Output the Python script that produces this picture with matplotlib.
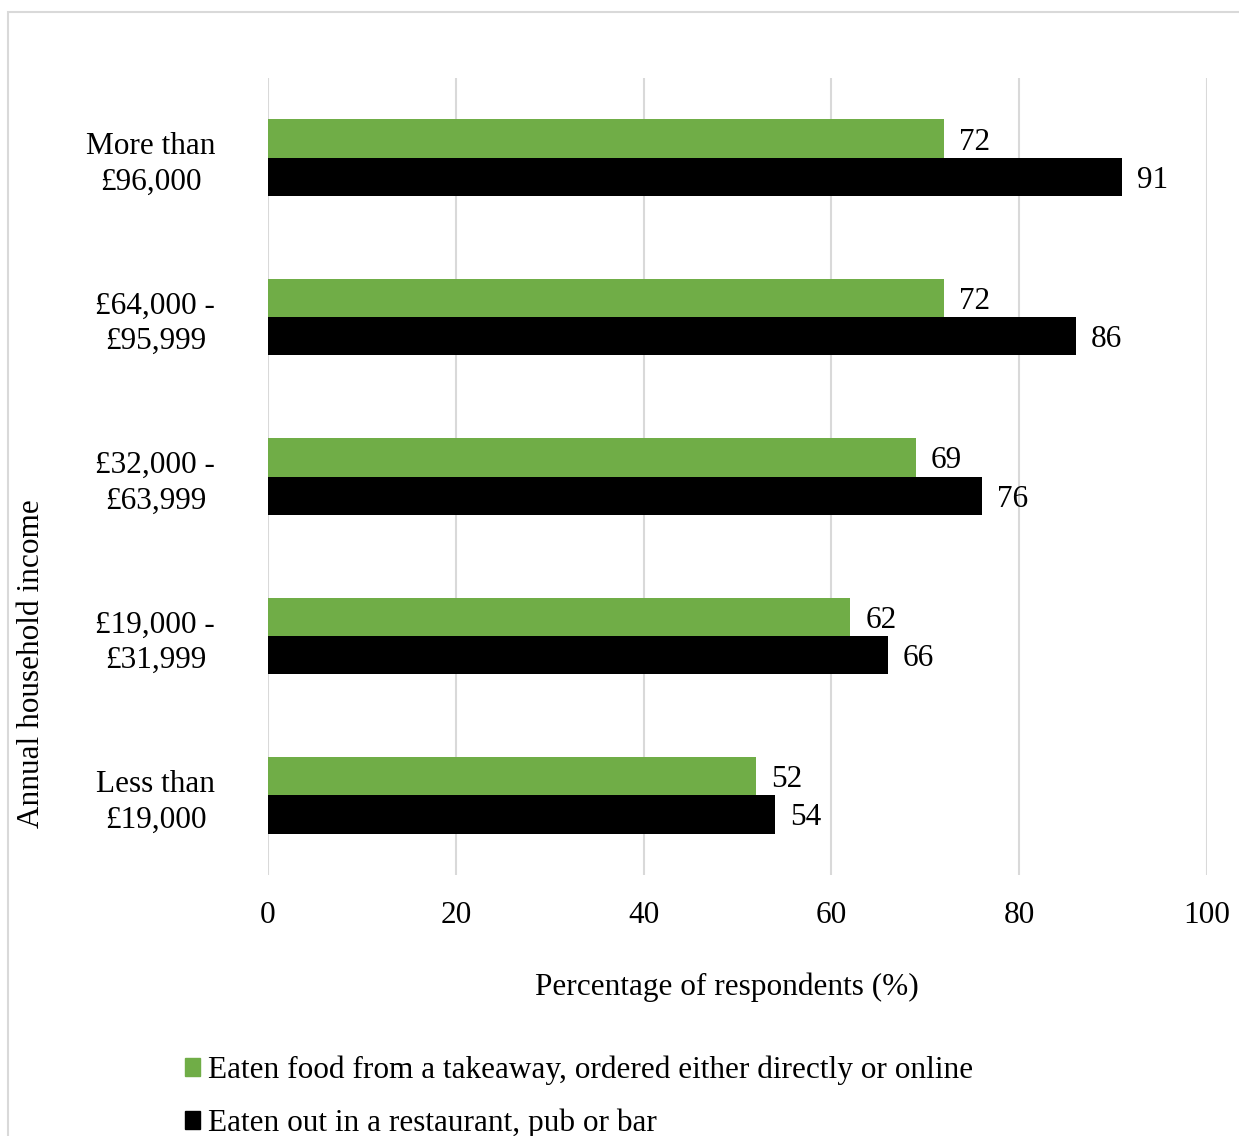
import numpy as np
import matplotlib.pyplot as plt
from matplotlib.patches import Patch, Rectangle

plt.rcParams['font.family'] = ['Liberation Serif', 'DejaVu Serif']

categories = ['Less than\n£19,000', '£19,000 -\n£31,999', '£32,000 -\n£63,999',
              '£64,000 -\n£95,999', 'More than\n£96,000']
takeaway = [52, 62, 69, 72, 72]
eaten_out = [54, 66, 76, 86, 91]
series_names = ['Eaten food from a takeaway, ordered either directly or online',
                'Eaten out in a restaurant, pub or bar']
x_ticks = [0, 20, 40, 60, 80, 100]

green = '#70AD47'
black = '#000000'
grid_col = '#D9D9D9'
fs = 22.5

fig = plt.figure(figsize=(12.39, 11.36), dpi=100)
ax = fig.add_axes([268 / 1239, 1 - 875 / 1136, (1207 - 268) / 1239, (875 - 78) / 1136])

# light grey frame around the chart (cut off at right/bottom like the original)
fig.patches.append(Rectangle((8 / 1239, -0.05), 1.1, 1 - 12 / 1136 + 0.05,
                             transform=fig.transFigure, fill=False,
                             edgecolor=grid_col, lw=1.5))

y = np.arange(len(categories))
h = 0.24
b1 = ax.barh(y + h / 2, takeaway, height=h, color=green, zorder=3)
b2 = ax.barh(y - h / 2, eaten_out, height=h, color=black, zorder=3)

for bars in (b1, b2):
    for bar in bars:
        w = bar.get_width()
        ax.annotate(f'{w:g}', (w, bar.get_y() + bar.get_height() / 2),
                    xytext=(15, 0), textcoords='offset pixels',
                    va='center_baseline', ha='left', fontsize=fs)

ax.set_xlim(0, 100)
ax.set_ylim(-0.5, len(categories) - 0.5)
ax.set_xticks(x_ticks)
ax.set_xticklabels([str(t) for t in x_ticks], fontsize=fs)
ax.set_yticks(y)
ax.set_yticklabels(categories, fontsize=fs, multialignment='center',
                   linespacing=1.3)
ax.tick_params(axis='both', length=0)
ax.tick_params(axis='y', pad=38)
ax.tick_params(axis='x', pad=19)
ax.grid(axis='x', color=grid_col, lw=1.5, zorder=0)
for s in ax.spines.values():
    s.set_visible(False)

fig.text(727 / 1239, 1 - 987 / 1136, 'Percentage of respondents (%)',
         ha='center', va='center', fontsize=fs)
fig.text(32 / 1239, 1 - 664 / 1136, 'Annual household income', rotation=90,
         ha='center', va='center', fontsize=fs)

handles = [Patch(color=green), Patch(color=black)]
fig.legend(handles, series_names, loc='upper left',
           bbox_to_anchor=(169 / 1239, 1 - 1040 / 1136), frameon=False,
           fontsize=fs, handlelength=0.5, handleheight=0.5,
           handletextpad=0.25, labelspacing=0.75, borderpad=0)

fig.savefig('out.png', dpi=100)
